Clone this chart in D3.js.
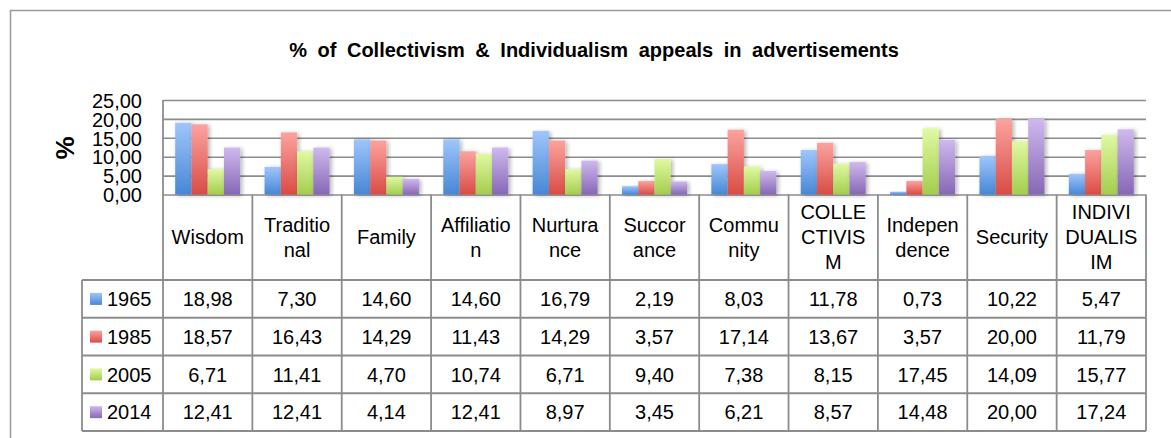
<!DOCTYPE html>
<html>
<head>
<meta charset="utf-8">
<script src="https://cdn.jsdelivr.net/npm/d3@7"></script>
<style>
  body { margin: 0; background: #fff; }
  svg { display: block; font-family: "Liberation Sans", Arial, Helvetica, sans-serif; }
</style>
</head>
<body>
<script>
// data
var categories = ['Wisdom', 'Traditional', 'Family', 'Affiliation', 'Nurturance', 'Succorance',
                  'Community', 'COLLECTIVISM', 'Independence', 'Security', 'INDIVIDUALISIM'];
// header labels as they wrap in the table cells
var headerLines = [['Wisdom'], ['Traditio', 'nal'], ['Family'], ['Affiliatio', 'n'], ['Nurtura', 'nce'],
                   ['Succor', 'ance'], ['Commu', 'nity'], ['COLLE', 'CTIVIS', 'M'], ['Indepen', 'dence'],
                   ['Security'], ['INDIVI', 'DUALIS', 'IM']];
var years = ['1965', '1985', '2005', '2014'];
var v1965 = [18.98, 7.30, 14.60, 14.60, 16.79, 2.19, 8.03, 11.78, 0.73, 10.22, 5.47];
var v1985 = [18.57, 16.43, 14.29, 11.43, 14.29, 3.57, 17.14, 13.67, 3.57, 20.00, 11.79];
var v2005 = [6.71, 11.41, 4.70, 10.74, 6.71, 9.40, 7.38, 8.15, 17.45, 14.09, 15.77];
var v2014 = [12.41, 12.41, 4.14, 12.41, 8.97, 3.45, 6.21, 8.57, 14.48, 20.00, 17.24];
var yTicks = [0, 5, 10, 15, 20, 25];

var series = [v1965, v1985, v2005, v2014];
var colors = [
    { top: '#9fc6fb', bottom: '#4687d6' },
    { top: '#fca39f', bottom: '#d94c45' },
    { top: '#e0f9a3', bottom: '#a3cd4d' },
    { top: '#cfb9ee', bottom: '#8667b5' }
];

// init
var width = 1171,
    height = 438,
    plot = { left: 163, right: 1146, top: 100, bottom: 194.5 },
    table = { left: 82, header: 280, bottom: 431 },
    gridColor = '#8c8c8c';

var locale = d3.formatLocale({ decimal: ',', thousands: '.', grouping: [3], currency: ['', ''] });
var fmt = locale.format('.2f');

var svg = d3.select('body')
    .append('svg')
    .attr('width', width)
    .attr('height', height);

var defs = svg.append('defs');
colors.forEach(function (c, i) {
    var g = defs.append('linearGradient')
        .attr('id', 'grad' + i)
        .attr('x1', 0).attr('y1', 0).attr('x2', 0).attr('y2', 1);
    g.append('stop').attr('offset', '0%').attr('stop-color', c.top);
    g.append('stop').attr('offset', '100%').attr('stop-color', c.bottom);
});
defs.append('filter')
    .attr('id', 'shadow')
    .attr('x', '-30%').attr('y', '-10%').attr('width', '160%').attr('height', '130%')
    .append('feDropShadow')
    .attr('dx', 2).attr('dy', 1).attr('stdDeviation', 2)
    .attr('flood-color', '#000').attr('flood-opacity', 0.3);

// scales
var xScale = d3.scaleBand().domain(categories).range([plot.left, plot.right]);
var xInner = d3.scaleBand().domain(years).range([0, xScale.bandwidth()]).paddingOuter(0.75);
var yScale = d3.scaleLinear().domain([0, 25]).range([plot.bottom, plot.top]);
var rowScale = d3.scaleBand().domain(years).range([table.header, table.bottom]);

// outer frame
svg.append('path')
    .attr('d', 'M10.5,438 V10.5 H1171')
    .attr('fill', 'none')
    .attr('stroke', '#9a9a9a')
    .attr('stroke-width', 1.5);

// title
svg.append('text')
    .attr('x', 594)
    .attr('y', 57)
    .attr('text-anchor', 'middle')
    .attr('font-size', 20)
    .attr('font-weight', 'bold')
    .attr('word-spacing', 5)
    .text('% of Collectivism & Individualism appeals in advertisements');

// y axis with gridlines
var yAxis = d3.axisLeft(yScale)
    .tickValues(yTicks)
    .tickFormat(fmt)
    .tickSizeInner(-(plot.right - plot.left))
    .tickSizeOuter(0)
    .tickPadding(21);

var yg = svg.append('g')
    .attr('transform', 'translate(' + plot.left + ',0)')
    .call(yAxis);
yg.select('.domain').remove();
yg.selectAll('.tick line').attr('stroke', gridColor).attr('stroke-width', 1.6);
yg.selectAll('.tick text')
    .attr('font-size', 20)
    .attr('font-family', '"Liberation Sans", Arial, sans-serif')
    .attr('fill', '#000')
    .attr('dy', '0.36em');

// y axis title
svg.append('text')
    .attr('transform', 'translate(74,148) rotate(-90)')
    .attr('text-anchor', 'middle')
    .attr('font-size', 26)
    .attr('font-weight', 'bold')
    .text('%');

// bars
var groups = svg.append('g')
    .selectAll('g')
    .data(categories)
    .join('g')
    .attr('transform', function (d) { return 'translate(' + xScale(d) + ',0)'; });

groups.selectAll('rect')
    .data(function (d, ci) {
        return years.map(function (y, si) { return { year: y, si: si, value: series[si][ci] }; });
    })
    .join('rect')
    .attr('x', function (d) { return xInner(d.year); })
    .attr('y', function (d) { return yScale(d.value); })
    .attr('width', xInner.bandwidth())
    .attr('height', function (d) { return yScale(0) - yScale(d.value); })
    .attr('fill', function (d) { return 'url(#grad' + d.si + ')'; })
    .attr('filter', 'url(#shadow)');

// table lines
var lines = svg.append('g')
    .attr('stroke', gridColor)
    .attr('stroke-width', 1.8)
    .attr('fill', 'none');

// plot left border
lines.append('line')
    .attr('x1', plot.left).attr('x2', plot.left)
    .attr('y1', plot.top).attr('y2', table.bottom);

// category column borders
lines.selectAll('line.col')
    .data(categories.slice(1).map(function (c) { return xScale(c); }).concat([plot.right]))
    .join('line')
    .attr('class', 'col')
    .attr('x1', function (d) { return d; })
    .attr('x2', function (d) { return d; })
    .attr('y1', plot.bottom)
    .attr('y2', table.bottom);

// legend column border
lines.append('line')
    .attr('x1', table.left).attr('x2', table.left)
    .attr('y1', table.header).attr('y2', table.bottom);

// row borders
lines.selectAll('line.row')
    .data(years.map(function (y) { return rowScale(y); }).concat([table.bottom]))
    .join('line')
    .attr('class', 'row')
    .attr('x1', table.left)
    .attr('x2', plot.right)
    .attr('y1', function (d) { return d; })
    .attr('y2', function (d) { return d; });

// header labels
var headerMid = (plot.bottom + table.header) / 2;
svg.append('g')
    .selectAll('text')
    .data(categories)
    .join('text')
    .attr('x', function (d) { return xScale(d) + xScale.bandwidth() / 2; })
    .attr('text-anchor', 'middle')
    .attr('font-size', 20)
    .each(function (d, i) {
        var ls = headerLines[i];
        d3.select(this).selectAll('tspan')
            .data(ls)
            .join('tspan')
            .attr('x', xScale(d) + xScale.bandwidth() / 2)
            .attr('y', function (t, j) { return headerMid + 7 + (j - (ls.length - 1) / 2) * 25; })
            .text(function (t) { return t; });
    });

// legend column
var legendRows = svg.append('g')
    .selectAll('g')
    .data(years)
    .join('g')
    .attr('transform', function (d) { return 'translate(0,' + (rowScale(d) + rowScale.bandwidth() / 2) + ')'; });

legendRows.append('rect')
    .attr('x', 90)
    .attr('y', -6)
    .attr('width', 12)
    .attr('height', 12)
    .attr('fill', function (d, i) { return 'url(#grad' + i + ')'; });

legendRows.append('text')
    .attr('x', 107)
    .attr('dy', '0.36em')
    .attr('font-size', 20)
    .text(function (d) { return d; });

// values
legendRows.each(function (y, si) {
    d3.select(this).selectAll('text.val')
        .data(series[si])
        .join('text')
        .attr('class', 'val')
        .attr('x', function (d, ci) { return xScale(categories[ci]) + xScale.bandwidth() / 2; })
        .attr('dy', '0.36em')
        .attr('text-anchor', 'middle')
        .attr('font-size', 20)
        .text(function (d) { return fmt(d); });
});
</script>
</body>
</html>
